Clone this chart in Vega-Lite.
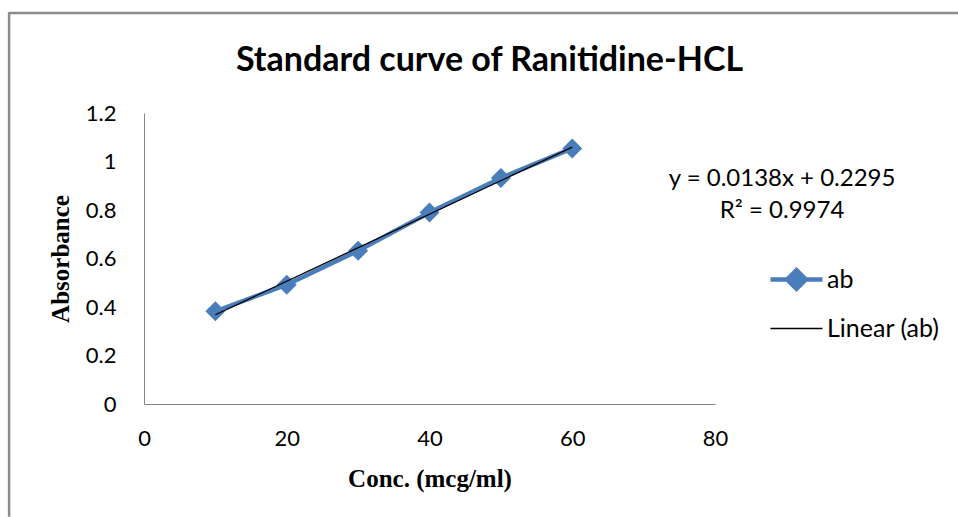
{
  "$schema": "https://vega.github.io/schema/vega-lite/v6.json",
  "width": 571,
  "height": 291,
  "autosize": "none",
  "padding": {"left": 144, "top": 113, "right": 243, "bottom": 113},
  "background": "white",
  "config": {"view": {"stroke": null}, "font": "Lato"},
  "title": {
    "text": "Standard curve of Ranitidine-HCL",
    "font": "Lato",
    "fontSize": 34,
    "fontWeight": "bold",
    "color": "black",
    "anchor": "middle",
    "dx": 60,
    "baseline": "alphabetic",
    "offset": -94
  },
  "data": {
    "values": [
      {"conc": 10, "abs": 0.382},
      {"conc": 20, "abs": 0.492},
      {"conc": 30, "abs": 0.632},
      {"conc": 40, "abs": 0.790},
      {"conc": 50, "abs": 0.932},
      {"conc": 60, "abs": 1.054}
    ]
  },
  "encoding": {
    "x": {
      "field": "conc",
      "type": "quantitative",
      "scale": {"domain": [0, 80], "nice": false, "zero": false},
      "axis": {
        "values": [0, 20, 40, 60, 80],
        "grid": false,
        "ticks": false,
        "labelFlush": false,
        "domainColor": "#868686",
        "domainWidth": 1,
        "labelFont": "Lato",
        "labelFontSize": 22,
        "labelColor": "black",
        "labelPadding": 24,
        "title": "Conc. (mcg/ml)",
        "titleFont": "Liberation Serif",
        "titleFontSize": 25,
        "titleFontWeight": "bold",
        "titleColor": "black",
        "titlePadding": 17
      }
    },
    "y": {
      "field": "abs",
      "type": "quantitative",
      "scale": {"domain": [0, 1.2], "nice": false, "zero": false},
      "axis": {
        "values": [0, 0.2, 0.4, 0.6, 0.8, 1, 1.2],
        "format": "~g",
        "grid": false,
        "ticks": false,
        "domainColor": "#868686",
        "domainWidth": 1,
        "labelFont": "Lato",
        "labelFontSize": 22,
        "labelColor": "black",
        "labelPadding": 28,
        "title": "Absorbance",
        "titleFont": "Liberation Serif",
        "titleFontSize": 25,
        "titleFontWeight": "bold",
        "titleColor": "black",
        "titlePadding": 12
      }
    }
  },
  "layer": [
    {
      "transform": [{"filter": "datum.conc === 10"}],
      "mark": {"type": "rule", "stroke": "#8c8c8c", "strokeWidth": 2.5, "strokeCap": "butt"},
      "encoding": {
        "x": {"datum": -18.9},
        "x2": {"datum": 114.1},
        "y": {"datum": 1.612}
      }
    },
    {
      "transform": [{"filter": "datum.conc === 10"}],
      "mark": {"type": "rule", "stroke": "#8c8c8c", "strokeWidth": 2.5, "strokeCap": "butt"},
      "encoding": {
        "x": {"datum": -18.9},
        "y": {"datum": 1.617},
        "y2": {"datum": -0.465}
      }
    },
    {
      "mark": {"type": "line", "strokeWidth": 4.5},
      "encoding": {
        "color": {
          "datum": "ab",
          "type": "nominal",
          "scale": {"domain": ["ab", "Linear (ab)"], "range": ["#4A7EBB", "#000000"]},
          "legend": {
            "title": null,
            "orient": "none",
            "legendX": 640,
            "legendY": 154,
            "padding": 0,
            "labelFont": "Lato",
            "labelFontSize": 25,
            "labelColor": "black",
            "labelOffset": 18,
            "rowPadding": 18,
            "symbolSize": 2704,
            "symbolType": "M-1,0H1",
            "encode": {
              "symbols": {
                "update": {
                  "shape": {"signal": "datum.value === 'ab' ? 'M-1,0H1M0,-0.36L0.36,0L0,0.36L-0.36,0Z' : 'M-1,0H1'"},
                  "strokeWidth": {"signal": "datum.value === 'ab' ? 4.5 : 1.3"},
                  "fill": {"signal": "datum.value === 'ab' ? '#4A7EBB' : 'transparent'"},
                  "stroke": {"signal": "datum.value === 'ab' ? '#4A7EBB' : '#000000'"},
                  "opacity": {"value": 1}
                }
              }
            }
          }
        }
      }
    },
    {
      "mark": {"type": "point", "shape": "diamond", "filled": true, "size": 400, "opacity": 1, "color": "#4A7EBB"}
    },
    {
      "transform": [{"regression": "abs", "on": "conc"}],
      "mark": {"type": "line", "strokeWidth": 1.3},
      "encoding": {
        "color": {"datum": "Linear (ab)", "type": "nominal"}
      }
    },
    {
      "transform": [{"filter": "datum.conc === 10"}],
      "mark": {"type": "text", "font": "Lato", "fontSize": 24, "fontWeight": "normal", "color": "black", "align": "center", "baseline": "middle", "lineBreak": "\n", "lineHeight": 32},
      "encoding": {
        "x": {"datum": 89.4},
        "y": {"datum": 0.928},
        "text": {"value": "y = 0.0138x + 0.2295\nR² = 0.9974"}
      }
    }
  ]
}
